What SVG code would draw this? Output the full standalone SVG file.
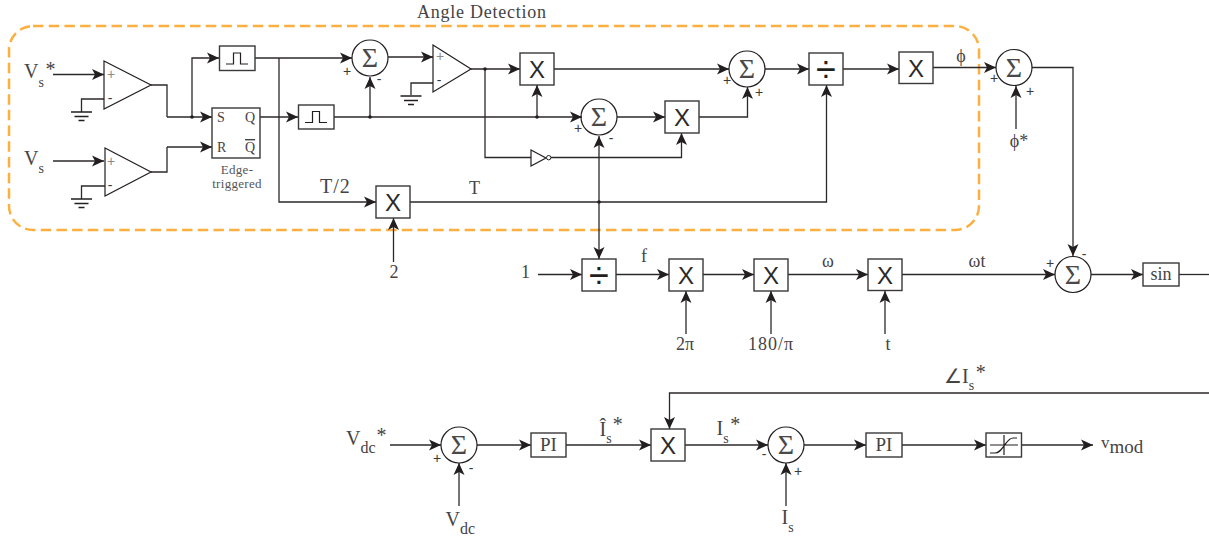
<svg xmlns="http://www.w3.org/2000/svg" width="1209" height="537" viewBox="0 0 1209 537">
<style>
text{font-family:"Liberation Serif","Times New Roman",serif;fill:#454344;font-size:18px}
.c{text-anchor:middle}
.big{font-size:20px}
.sub{font-size:14px}
.sub2{font-size:16px}
.sr{font-size:14px}
.edge{font-size:13px;letter-spacing:.3px;text-anchor:middle;fill:#555}
.sign{font-family:"Liberation Sans",Arial,sans-serif;font-size:14px;text-anchor:middle;fill:#3a3839}
.gp{fill:#8a8a8a}
.sig{font-size:28px;text-anchor:middle;fill:#4a4849}
.mul{font-family:"Liberation Sans",Arial,sans-serif;font-size:24px;text-anchor:middle;fill:#2b2929}
.div{font-family:"Liberation Sans",Arial,sans-serif;font-size:36px;text-anchor:middle;fill:#231f20}
.b{fill:#fff;stroke:#3a3839;stroke-width:1.4}
.t{fill:none;stroke:#231f20;stroke-width:1.2}
.w{fill:none;stroke:#2b2929;stroke-width:1.3}
.a{marker-end:url(#ah)}
.d{fill:#231f20}
#frame rect{fill:none;stroke:#fbb040;stroke-width:2.5;stroke-dasharray:10.500 5.200}
</style>
<defs>
<marker id="ah" markerUnits="userSpaceOnUse" markerWidth="14" markerHeight="14" refX="12" refY="6" orient="auto" viewBox="0 0 14 12">
<path d="M0,0.5L12,6L0,11.5L3,6Z" fill="#231f20"/>
</marker>
<path id="pulse" d="M-11,5.500H-3.500V-5.500H3.500V5.500H11" fill="none" stroke="#231f20" stroke-width="1.2"/>
<g id="gnd" stroke="#231f20" stroke-width="1.3"><path d="M-10.500,0H10.500M-7,4.500H7M-3,8.500H3"/></g>
</defs>

<g id="frame"><rect x="9" y="26" width="970" height="204" rx="24" ry="24"/></g>

<g id="connectors">
<path class="w a" d="M53,74.500H104"/>
<path class="w" d="M104,99H81.500V112"/>
<path class="w" d="M151,85H167V117"/>
<path class="w a" d="M167,117H212"/>
<path class="w a" d="M192,117V58H219"/>
<path class="w" d="M151,172H167V147"/>
<path class="w a" d="M167,147H212"/>
<path class="w a" d="M53,161H104"/>
<path class="w" d="M105,186H81.500V199"/>
<path class="w a" d="M260,117H298"/>
<path class="w a" d="M255,58H352"/>
<path class="w a" d="M279,58V202H376"/>
<path class="w a" d="M334,117H582"/>
<path class="w a" d="M370,117V77"/>
<path class="w a" d="M388,57H433"/>
<path class="w" d="M433,83H411V95"/>
<path class="w a" d="M471,69H520"/>
<path class="w a" d="M537,117V85"/>
<path class="w" d="M485,69V157.500H531"/>
<path class="w a" d="M551,157.500H681.500V133"/>
<path class="w a" d="M554,69H729"/>
<path class="w a" d="M617,117H665"/>
<path class="w a" d="M699,117H747.500V87"/>
<path class="w a" d="M765,69H809"/>
<path class="w a" d="M843,69H899"/>
<path class="w a" d="M933,67.500H996"/>
<path class="w a" d="M1016,129V86"/>
<path class="w a" d="M1032,67.500H1073V256"/>
<path class="w a" d="M410,202H826.500V85"/>
<path class="w a" d="M599,202V136"/>
<path class="w a" d="M599,202V259"/>
<path class="w a" d="M393.500,262V218"/>
<path class="w a" d="M538,274.500H582"/>
<path class="w a" d="M616,274.500H669"/>
<path class="w a" d="M703,274.500H754"/>
<path class="w a" d="M788,274.500H868"/>
<path class="w a" d="M902,274.500H1055"/>
<path class="w a" d="M1091,274.500H1143"/>
<path class="w" d="M1179,274.500H1209"/>
<path class="w a" d="M686,334V291"/>
<path class="w a" d="M771,334V291"/>
<path class="w a" d="M885,334V291"/>
<path class="w a" d="M390,445H441"/>
<path class="w a" d="M459,506V463"/>
<path class="w a" d="M477,445H531"/>
<path class="w a" d="M566,445H651"/>
<path class="w a" d="M1209,393H669.500V429"/>
<path class="w a" d="M685,445H768"/>
<path class="w a" d="M786,506V463"/>
<path class="w a" d="M804,445H866"/>
<path class="w a" d="M902,445H986"/>
<path class="w a" d="M1021,445H1093"/>
<circle class="d" cx="192" cy="117" r="1.800"/>
<circle class="d" cx="370" cy="117" r="1.800"/>
<circle class="d" cx="537" cy="117" r="1.800"/>
<circle class="d" cx="485" cy="69" r="1.800"/>
<circle class="d" cx="599" cy="202" r="1.800"/>
</g>

<g id="opamp1"><path class="t" d="M104,61L151,85L104,109Z"/><text class="sign gp" x="111" y="79">+</text><text class="sign" x="110" y="103">-</text><use href="#gnd" x="81.500" y="112"/></g>
<g id="opamp2"><path class="t" d="M105,148L151,172L105,196Z"/><text class="sign gp" x="111" y="166">+</text><text class="sign" x="110" y="190">-</text><use href="#gnd" x="81.500" y="199"/></g>
<g id="opamp3"><path class="t" d="M433,45L471,69L433,92Z"/><text class="sign gp" x="440" y="61">+</text><text class="sign" x="439" y="85">-</text><use href="#gnd" x="411" y="96"/></g>

<g id="pulse1"><rect class="b" x="219.500" y="46" width="35.500" height="24.500"/><use href="#pulse" x="237" y="58.500"/></g>
<g id="pulse2"><rect class="b" x="298.500" y="105" width="35.500" height="24"/><use href="#pulse" x="316" y="117"/></g>

<g id="sr"><rect class="b" x="212" y="108" width="48" height="50"/>
<text class="sr" x="217" y="122">S</text><text class="sr" x="245" y="122">Q</text>
<text class="sr" x="217" y="152">R</text><text class="sr" x="245" y="152" text-decoration="overline">Q</text>
<text class="edge" x="237" y="174">Edge-</text><text class="edge" x="237" y="188">triggered</text></g>

<g id="sum1"><circle class="t" cx="370" cy="58" r="18"/><text class="sig" x="370" y="67">Σ</text><text class="sign" x="347" y="76">+</text><text class="sign" x="379" y="84">-</text></g>
<g id="sum2"><circle class="t" cx="599" cy="117" r="18"/><text class="sig" x="599" y="126">Σ</text><text class="sign" x="578" y="133">+</text><text class="sign" x="611" y="143">-</text></g>
<g id="sum3"><circle class="t" cx="747" cy="69" r="18"/><text class="sig" x="747" y="78">Σ</text><text class="sign" x="727" y="85">+</text><text class="sign" x="759" y="97">+</text></g>
<g id="sum4"><circle class="t" cx="1014" cy="67.500" r="18"/><text class="sig" x="1014" y="77">Σ</text><text class="sign" x="994" y="83">+</text><text class="sign" x="1030" y="96">+</text></g>
<g id="sum5"><circle class="t" cx="1073" cy="274.500" r="18"/><text class="sig" x="1073" y="284">Σ</text><text class="sign" x="1050" y="268">+</text><text class="sign" x="1084" y="259">-</text></g>
<g id="sum6"><circle class="t" cx="459" cy="445" r="18"/><text class="sig" x="459" y="454">Σ</text><text class="sign" x="437" y="463">+</text><text class="sign" x="471" y="473">-</text></g>
<g id="sum7"><circle class="t" cx="786" cy="445" r="18"/><text class="sig" x="786" y="454">Σ</text><text class="sign" x="764" y="459">-</text><text class="sign" x="798" y="476">+</text></g>

<g id="mul1"><rect class="b" x="520" y="53" width="34" height="32"/><text class="mul" x="537" y="77.500">X</text></g>
<g id="mul2"><rect class="b" x="665" y="101" width="34" height="32"/><text class="mul" x="682" y="125.500">X</text></g>
<g id="mul3"><rect class="b" x="376" y="186" width="34" height="32"/><text class="mul" x="393" y="210.500">X</text></g>
<g id="mul4"><rect class="b" x="899" y="52" width="34" height="31.500"/><text class="mul" x="916" y="76.500">X</text></g>
<g id="mul5"><rect class="b" x="669" y="259" width="34" height="32"/><text class="mul" x="686" y="283.500">X</text></g>
<g id="mul6"><rect class="b" x="754" y="259" width="34" height="32"/><text class="mul" x="771" y="283.500">X</text></g>
<g id="mul7"><rect class="b" x="868" y="259" width="34" height="31.500"/><text class="mul" x="885" y="283.500">X</text></g>
<g id="mul8"><rect class="b" x="651" y="429" width="34" height="32"/><text class="mul" x="668" y="453.500">X</text></g>

<g id="div1"><rect class="b" x="809" y="53" width="34" height="32"/><text class="div" x="826" y="81.500">÷</text></g>
<g id="div2"><rect class="b" x="582" y="259" width="34" height="32"/><text class="div" x="599" y="287.500">÷</text></g>

<g id="inv"><path class="t" d="M531,150L546,158L531,166Z"/><circle cx="548.700" cy="157.700" r="2.200" fill="#fff" stroke="#231f20" stroke-width="1"/></g>

<g id="sin"><rect class="b" x="1143" y="263" width="36" height="23"/><text class="c" x="1161" y="280">sin</text></g>
<g id="pi1"><rect class="b" x="531" y="433" width="35" height="24"/><text class="c" x="548.500" y="451" style="font-size:19px">PI</text></g>
<g id="pi2"><rect class="b" x="866" y="433" width="36" height="24"/><text class="c" x="884" y="451" style="font-size:19px">PI</text></g>
<g id="sat"><rect class="b" x="986" y="433" width="35.500" height="24"/><path class="t" d="M990,445H1018M1004,435V455M990,453H995C999,453 1001,450 1004,446C1007,442 1009,438 1013,438H1017"/></g>

<g id="labels">
<text x="417" y="18" style="letter-spacing:.75px">Angle Detection</text>
<text class="big" x="24" y="78">V<tspan class="sub" dy="9">s</tspan><tspan dy="-11.500" dx="1.500">*</tspan></text>
<text class="big" x="24" y="165">V<tspan class="sub" dy="8">s</tspan></text>
<text class="big" x="320" y="193" style="letter-spacing:1px">T/2</text>
<text x="469" y="194">T</text>
<text class="c" x="394" y="278">2</text>
<text x="521" y="278">1</text>
<text x="641" y="262">f</text>
<text class="c" x="828" y="267">ω</text>
<text class="c" x="977" y="267">ωt</text>
<text class="c" x="961" y="62">ϕ</text>
<text class="c" x="1019" y="147">ϕ*</text>
<text class="c" x="685" y="350">2π</text>
<text class="c" x="771" y="350" style="letter-spacing:1px">180/π</text>
<text class="c" x="888" y="350">t</text>
<text class="big" x="346" y="445">V<tspan class="sub2" dy="8">dc</tspan><tspan dy="-11.500" dx="1">*</tspan></text>
<text class="big" x="445.500" y="526">V<tspan class="sub2" dy="8">dc</tspan></text>
<text class="big" x="599.500" y="436">Î<tspan class="sub" dy="7">s</tspan><tspan dy="-12" dx="1">*</tspan></text>
<text class="big" x="716.500" y="435">I<tspan class="sub" dy="8">s</tspan><tspan dy="-12" dx="1.500">*</tspan></text>
<text class="big" x="944" y="383">∠I<tspan class="sub" dy="7">s</tspan><tspan dy="-11.500" dx="1.500">*</tspan></text>
<text class="big" x="781.500" y="524">I<tspan class="sub" dy="8">s</tspan></text>
<text x="1101" y="448" style="font-size:17px">v<tspan dy="5" style="font-size:19px">mod</tspan></text>
</g>
</svg>
